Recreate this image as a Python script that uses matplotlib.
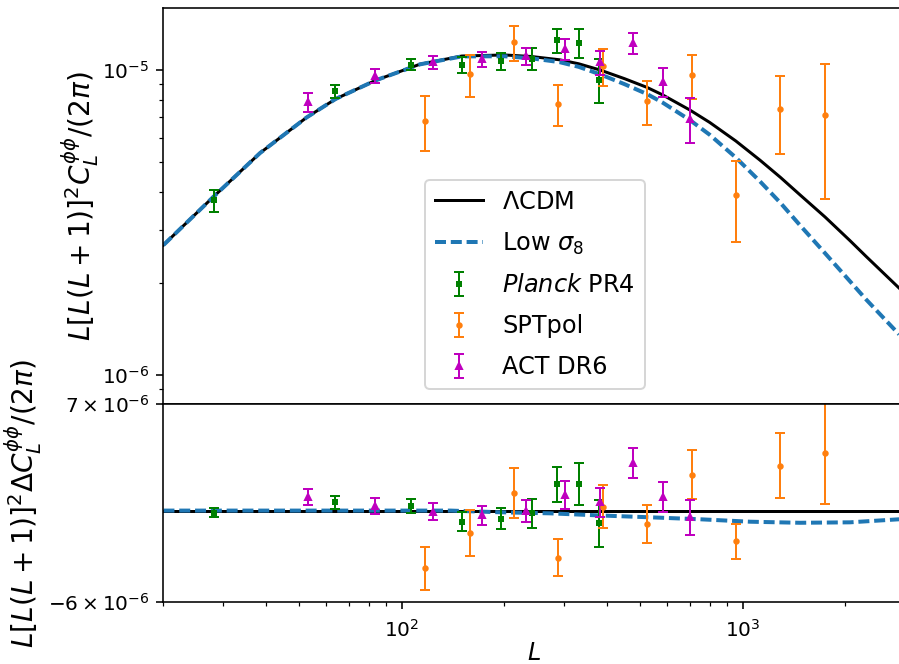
from matplotlib import pyplot as plt
import numpy as np

# theory curves, values in units of 1e-6
theory_L = [20, 28, 38.4, 52.6, 64, 84, 113, 150, 200, 240, 290, 330, 381, 450,
            524, 582, 700, 800, 954, 1123, 1290, 1472, 1743, 2063, 2300, 2873]
lcdm = [2.67, 3.84, 5.35, 7.00, 8.05, 9.27, 10.46, 11.13, 11.22, 11.09, 10.82, 10.50, 10.02, 9.38,
        8.78, 8.30, 7.40, 6.74, 5.86, 5.07, 4.45, 3.90, 3.30, 2.76, 2.45, 1.93]
low_s8 = [2.67, 3.84, 5.35, 7.00, 8.05, 9.27, 10.45, 11.10, 11.11, 10.94, 10.63, 10.26, 9.70, 9.00,
          8.35, 7.83, 6.86, 6.14, 5.17, 4.32, 3.67, 3.10, 2.51, 2.03, 1.77, 1.36]

# residual of the low sigma8 curve (bottom panel)
resid_L = [20, 139, 194.5, 272.6, 381.6, 535, 750, 1050, 1472, 2063, 2873]
low_s8_resid = [0.0, 0.0, -0.11, -0.18, -0.32, -0.44, -0.57, -0.73, -0.80, -0.77, -0.57]

# Planck PR4
planck_L = [28.2, 63.7, 106.5, 150.6, 195.6, 240.6, 286, 331.8, 378.2]
planck_val = [3.75, 8.53, 10.44, 10.41, 10.70, 10.92, 12.54, 12.29, 9.32]
planck_resid = [-0.14, 0.55, 0.32, -0.73, -0.53, -0.18, 1.73, 1.75, -0.84]
planck_err = [0.31, 0.42, 0.45, 0.61, 0.68, 0.93, 1.14, 1.35, 1.54]

# SPTpol
spt_L = [117.1, 158.6, 213.9, 288, 388, 524, 708.7, 954, 1290, 1743]
spt_val = [6.82, 9.70, 12.35, 7.75, 10.33, 7.91, 9.63, 3.89, 7.45, 7.12]
spt_resid = [-3.80, -1.50, 1.14, -3.10, 0.26, -0.88, 2.36, -2.00, 2.96, 3.77]
spt_err = [1.39, 1.51, 1.63, 1.21, 1.43, 1.28, 1.59, 1.15, 2.14, 3.34]

# ACT DR6
act_L = [53.2, 83.7, 123.3, 172.4, 231.5, 301.8, 382.3, 476.1, 581.8, 700.6]
act_val = [7.87, 9.56, 10.62, 10.87, 11.11, 11.75, 10.60, 12.29, 9.15, 6.94]
act_resid = [0.89, 0.30, -0.07, -0.32, -0.03, 1.01, 0.55, 3.11, 0.89, -0.44]
act_err = [0.55, 0.51, 0.55, 0.60, 0.70, 0.92, 0.95, 0.99, 1.00, 1.16]


def main():
    s = 1e-6
    fig, (ax, axr) = plt.subplots(2, 1, sharex=True, figsize=(899 / 144, 664 / 144), dpi=144,
                                  gridspec_kw={'height_ratios': [2, 1]})
    fig.subplots_adjust(left=0.1818, right=1.0072, top=0.988, bottom=0.0934, hspace=0)

    sets = [
        (planck_L, planck_val, planck_resid, planck_err, 'g', 's', 1.8, r'$\it{Planck}$ PR4'),
        (spt_L, spt_val, spt_resid, spt_err, 'C1', 'o', 2.2, 'SPTpol'),
        (act_L, act_val, act_resid, act_err, 'm', '^', 3, 'ACT DR6'),
    ]

    ax.plot(theory_L, np.array(lcdm) * s, color='k', lw=1.5, label=r'$\Lambda$CDM')
    ax.plot(theory_L, np.array(low_s8) * s, color='C0', lw=2, dashes=(2.75, 1.2), label=r'Low $\sigma_8$')
    for L, val, res, err, c, m, ms, lab in sets:
        ax.errorbar(L, np.array(val) * s, yerr=np.array(err) * s, fmt=m, color=c, ms=ms,
                    elinewidth=1, capsize=2.5, label=lab)

    ax.set_xscale('log')
    ax.set_yscale('log')
    ax.set_xlim(20, 3000)
    ax.set_ylim(8.04e-7, 1.6e-5)
    ax.set_ylabel(r'$L[L(L+1)]^2C_L^{\phi\phi}/(2\pi)$', fontsize=14)
    ax.yaxis.set_label_coords(-0.084, 0.5)
    ax.tick_params(labelsize=10)
    ax.legend(loc='center', bbox_to_anchor=(0.5008, 0.302), fontsize=12, labelspacing=0.7)

    axr.plot([theory_L[0], theory_L[-1]], [0, 0], color='k', lw=1.5)
    axr.plot(resid_L, np.array(low_s8_resid) * s, color='C0', lw=2, dashes=(2.75, 1.2))
    for L, val, res, err, c, m, ms, lab in sets:
        axr.errorbar(L, np.array(res) * s, yerr=np.array(err) * s, fmt=m, color=c, ms=ms,
                     elinewidth=1, capsize=2.5)

    axr.set_ylim(-6e-6, 7e-6)
    axr.set_yticks([-6e-6, 7e-6])
    axr.set_yticklabels([r'$\mathdefault{-6\times10^{-6}}$', r'$\mathdefault{7\times10^{-6}}$'])
    axr.set_xlabel(r'$L$', fontsize=12, labelpad=0)
    axr.set_ylabel(r'$L[L(L+1)]^2\Delta C_L^{\phi\phi}/(2\pi)$', fontsize=14)
    axr.yaxis.set_label_coords(-0.161, 0.5)
    axr.tick_params(labelsize=10)
    axr.tick_params(axis='x', which='both', pad=5)

    fig.savefig('out.png', dpi=144)


if __name__ == '__main__':
    main()
